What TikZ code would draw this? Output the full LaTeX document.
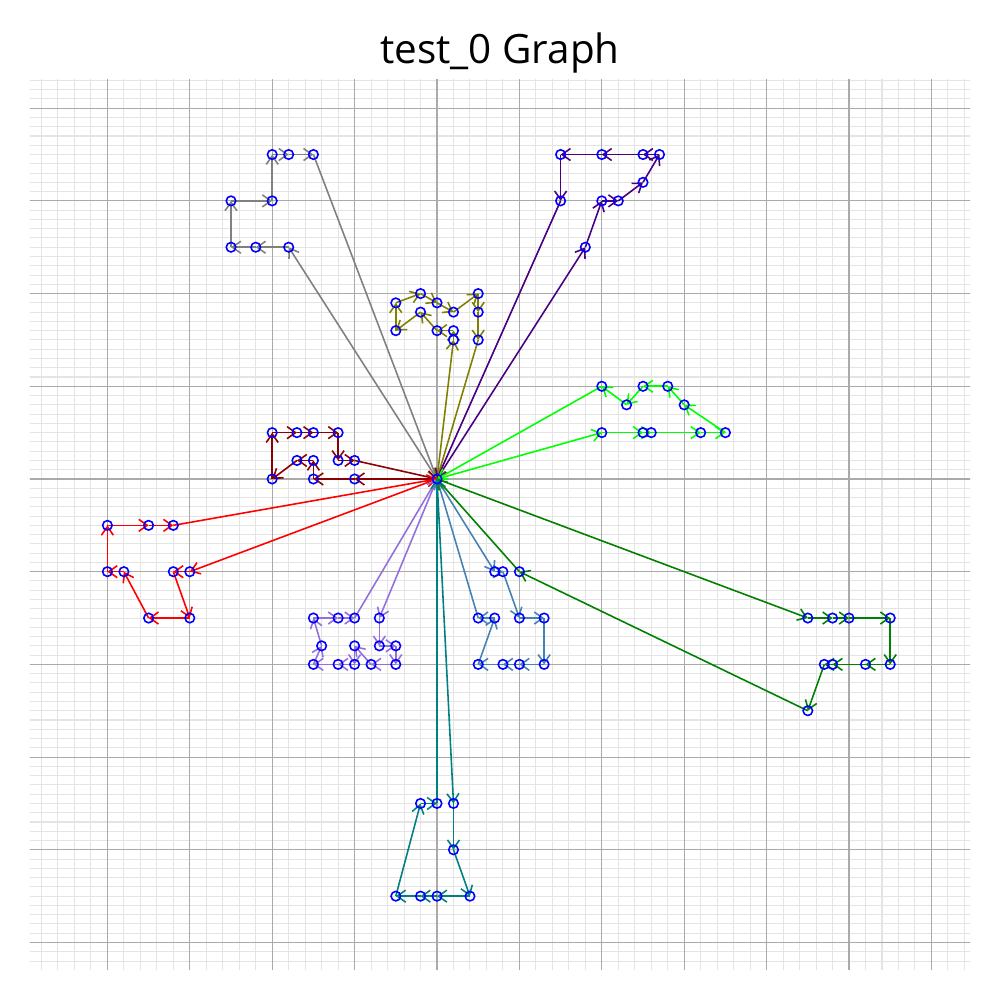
\documentclass[tikz,border=0pt]{standalone}
\usepackage{fontspec}
\newfontfamily\titlefont{Open Sans}
\usepackage{tikz}
\usetikzlibrary{arrows.meta}
\definecolor{graycol}{RGB}{128,128,128}
\definecolor{olivecol}{RGB}{128,128,0}
\definecolor{indigocol}{RGB}{75,0,130}
\definecolor{limecol}{RGB}{0,255,0}
\definecolor{darkredcol}{RGB}{139,0,0}
\definecolor{redcol}{RGB}{255,0,0}
\definecolor{purplecol}{RGB}{147,112,219}
\definecolor{steelcol}{RGB}{70,130,180}
\definecolor{greencol}{RGB}{0,128,0}
\definecolor{tealcol}{RGB}{0,128,128}
\definecolor{minorgrid}{RGB}{228,228,228}
\definecolor{majorgrid}{RGB}{170,170,170}

\begin{document}
\begin{tikzpicture}[x=0.824cm,y=0.927cm,
  edge/.style={line width=0.45pt,-{Straight Barb[length=0.85mm,width=1.2mm]}},
  pt/.style={circle,draw=blue,line width=0.45pt,inner sep=0pt,minimum size=0.95mm}]
\useasboundingbox (-4.37cm,4.79cm) rectangle (5.63cm,-5.21cm);

% grid
\begin{scope}
\clip (-4.07cm,3.99cm) rectangle (5.33cm,-4.90cm);
\foreach \i in {-25,...,33} \draw[minorgrid,line width=0.3pt] (\i/5,-5.4) -- (\i/5,4.4);
\foreach \j in {-54,...,44} \draw[minorgrid,line width=0.3pt] (-5,\j/10) -- (6.6,\j/10);
\foreach \i in {-4,...,6} \draw[majorgrid,line width=0.3pt] (\i,-5.4) -- (\i,4.4);
\foreach \j in {-5,...,4} \draw[majorgrid,line width=0.3pt] (-5,\j) -- (6.6,\j);
\end{scope}

\node[font=\titlefont\fontsize{11.5}{14}\selectfont] (title) at (0.63cm,4.26cm) {test\_0 Graph};

% points
\coordinate (c) at (0,0);
\path (-1.8,2.5) coordinate (gy1) (-2.2,2.5) coordinate (gy2) (-2.5,2.5) coordinate (gy3)
      (-2.5,3.0) coordinate (gy4) (-2.0,3.0) coordinate (gy5) (-2.0,3.5) coordinate (gy6)
      (-1.8,3.5) coordinate (gy7) (-1.5,3.5) coordinate (gy8);
\path (0.2,1.5) coordinate (ol1) (0.2,1.6) coordinate (ol2) (0,1.6) coordinate (ol3)
      (-0.2,1.8) coordinate (ol4) (-0.5,1.6) coordinate (ol5) (-0.5,1.9) coordinate (ol6)
      (-0.2,2.0) coordinate (ol7) (0,1.9) coordinate (ol8) (0.2,1.8) coordinate (ol9)
      (0.5,2.0) coordinate (ol10) (0.5,1.8) coordinate (ol11) (0.5,1.5) coordinate (ol12);
\path (1.8,2.5) coordinate (in1) (2.0,3.0) coordinate (in2) (2.2,3.0) coordinate (in3)
      (2.5,3.2) coordinate (in4) (2.7,3.5) coordinate (in5) (2.5,3.5) coordinate (in6)
      (2.0,3.5) coordinate (in7) (1.5,3.5) coordinate (in8) (1.5,3.0) coordinate (in9);
\path (2.0,0.5) coordinate (li1) (2.5,0.5) coordinate (li2) (2.6,0.5) coordinate (li3)
      (3.2,0.5) coordinate (li4) (3.5,0.5) coordinate (li5) (3.0,0.8) coordinate (li6)
      (2.8,1.0) coordinate (li7) (2.5,1.0) coordinate (li8) (2.3,0.8) coordinate (li9)
      (2.0,1.0) coordinate (li10);
\path (-1.0,0) coordinate (dr1) (-1.5,0) coordinate (dr2) (-1.5,0.2) coordinate (dr3)
      (-1.7,0.2) coordinate (dr4) (-2.0,0) coordinate (dr5) (-2.0,0.5) coordinate (dr6)
      (-1.7,0.5) coordinate (dr7) (-1.5,0.5) coordinate (dr8) (-1.2,0.5) coordinate (dr9)
      (-1.2,0.2) coordinate (dr10) (-1.0,0.2) coordinate (dr11);
\path (-3.0,-1.0) coordinate (rd1) (-3.2,-1.0) coordinate (rd2) (-3.0,-1.5) coordinate (rd3)
      (-3.5,-1.5) coordinate (rd4) (-3.8,-1.0) coordinate (rd5) (-4.0,-1.0) coordinate (rd6)
      (-4.0,-0.5) coordinate (rd7) (-3.5,-0.5) coordinate (rd8) (-3.2,-0.5) coordinate (rd9);
\path (-0.7,-1.5) coordinate (mp1) (-0.7,-1.8) coordinate (mp2) (-0.5,-1.8) coordinate (mp3)
      (-0.5,-2.0) coordinate (mp4) (-0.8,-2.0) coordinate (mp5) (-1.0,-1.8) coordinate (mp6)
      (-1.0,-2.0) coordinate (mp7) (-1.2,-2.0) coordinate (mp8) (-1.5,-2.0) coordinate (mp9)
      (-1.4,-1.8) coordinate (mp10) (-1.5,-1.5) coordinate (mp11) (-1.2,-1.5) coordinate (mp12)
      (-1.0,-1.5) coordinate (mp13);
\path (0.7,-1.0) coordinate (sb1) (0.8,-1.0) coordinate (sb2) (1.0,-1.5) coordinate (sb3)
      (1.3,-1.5) coordinate (sb4) (1.3,-2.0) coordinate (sb5) (1.0,-2.0) coordinate (sb6)
      (0.8,-2.0) coordinate (sb7) (0.5,-2.0) coordinate (sb8) (0.7,-1.5) coordinate (sb9)
      (0.5,-1.5) coordinate (sb10);
\path (4.5,-1.5) coordinate (gr1) (4.8,-1.5) coordinate (gr2) (5.0,-1.5) coordinate (gr3)
      (5.5,-1.5) coordinate (gr4) (5.5,-2.0) coordinate (gr5) (5.2,-2.0) coordinate (gr6)
      (4.8,-2.0) coordinate (gr7) (4.7,-2.0) coordinate (gr8) (4.5,-2.5) coordinate (gr9)
      (1.0,-1.0) coordinate (gr10);
\path (0.2,-3.5) coordinate (tl1) (0.2,-4.0) coordinate (tl2) (0.4,-4.5) coordinate (tl3)
      (0,-4.5) coordinate (tl4) (-0.2,-4.5) coordinate (tl5) (-0.5,-4.5) coordinate (tl6)
      (-0.2,-3.5) coordinate (tl7) (0,-3.5) coordinate (tl8);

% edges
\foreach \a/\b in {c/gy1,gy1/gy2,gy2/gy3,gy3/gy4,gy4/gy5,gy5/gy6,gy6/gy7,gy7/gy8,gy8/c}
  \draw[edge,graycol] (\a) -- (\b);
\foreach \a/\b in {c/ol1,ol1/ol2,ol2/ol3,ol3/ol4,ol4/ol5,ol5/ol6,ol6/ol7,ol7/ol8,ol8/ol9,ol9/ol10,ol10/ol11,ol11/ol12,ol12/c}
  \draw[edge,olivecol] (\a) -- (\b);
\foreach \a/\b in {c/in1,in1/in2,in2/in3,in3/in4,in4/in5,in5/in6,in6/in7,in7/in8,in8/in9,in9/c}
  \draw[edge,indigocol] (\a) -- (\b);
\foreach \a/\b in {c/li1,li1/li2,li2/li3,li3/li4,li4/li5,li5/li6,li6/li7,li7/li8,li8/li9,li9/li10,li10/c}
  \draw[edge,limecol] (\a) -- (\b);
\foreach \a/\b in {c/dr1,dr1/dr2,dr2/dr3,dr3/dr4,dr4/dr5,dr5/dr6,dr6/dr7,dr7/dr8,dr8/dr9,dr9/dr10,dr10/dr11,dr11/c}
  \draw[edge,darkredcol] (\a) -- (\b);
\foreach \a/\b in {c/rd1,rd1/rd2,rd2/rd3,rd3/rd4,rd4/rd5,rd5/rd6,rd6/rd7,rd7/rd8,rd8/rd9,rd9/c}
  \draw[edge,redcol] (\a) -- (\b);
\foreach \a/\b in {c/mp1,mp1/mp2,mp2/mp3,mp3/mp4,mp4/mp5,mp5/mp6,mp6/mp7,mp7/mp8,mp8/mp9,mp9/mp10,mp10/mp11,mp11/mp12,mp12/mp13,mp13/c}
  \draw[edge,purplecol] (\a) -- (\b);
\foreach \a/\b in {c/sb1,sb1/sb2,sb2/sb3,sb3/sb4,sb4/sb5,sb5/sb6,sb6/sb7,sb7/sb8,sb8/sb9,sb9/sb10,sb10/c}
  \draw[edge,steelcol] (\a) -- (\b);
\foreach \a/\b in {c/gr1,gr1/gr2,gr2/gr3,gr3/gr4,gr4/gr5,gr5/gr6,gr6/gr7,gr7/gr8,gr8/gr9,gr9/gr10,gr10/c}
  \draw[edge,greencol] (\a) -- (\b);
\foreach \a/\b in {c/tl1,tl1/tl2,tl2/tl3,tl3/tl4,tl4/tl5,tl5/tl6,tl6/tl7,tl7/tl8,tl8/c}
  \draw[edge,tealcol] (\a) -- (\b);

% markers
\foreach \n in {c,gy1,gy2,gy3,gy4,gy5,gy6,gy7,gy8,
  ol1,ol2,ol3,ol4,ol5,ol6,ol7,ol8,ol9,ol10,ol11,ol12,
  in1,in2,in3,in4,in5,in6,in7,in8,in9,
  li1,li2,li3,li4,li5,li6,li7,li8,li9,li10,
  dr1,dr2,dr3,dr4,dr5,dr6,dr7,dr8,dr9,dr10,dr11,
  rd1,rd2,rd3,rd4,rd5,rd6,rd7,rd8,rd9,
  mp1,mp2,mp3,mp4,mp5,mp6,mp7,mp8,mp9,mp10,mp11,mp12,mp13,
  sb1,sb2,sb3,sb4,sb5,sb6,sb7,sb8,sb9,sb10,
  gr1,gr2,gr3,gr4,gr5,gr6,gr7,gr8,gr9,gr10,
  tl1,tl2,tl3,tl4,tl5,tl6,tl7,tl8}
  \node[pt] (\n-m) at (\n) {};
\end{tikzpicture}
\end{document}
